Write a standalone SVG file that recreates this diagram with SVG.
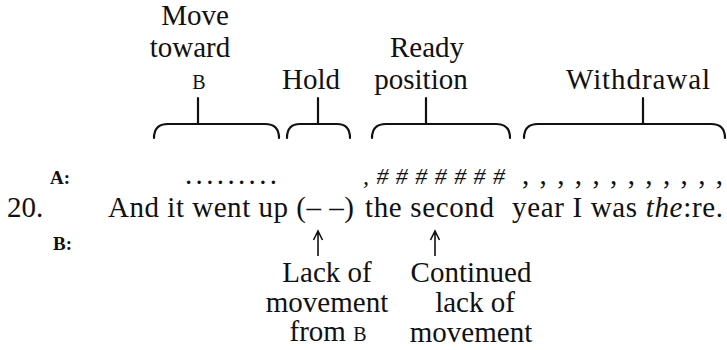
<svg xmlns="http://www.w3.org/2000/svg" width="727" height="350" viewBox="0 0 727 350">
<rect width="727" height="350" fill="#fff"/>
<g font-family="Liberation Serif" font-size="29" fill="#111">
<g id="label-move" text-anchor="middle">
<text font-family="Liberation Serif" x="195" y="25">Move</text>
<text font-family="Liberation Serif" x="190" y="57">toward</text>
<text font-family="Liberation Serif" font-size="20" x="199" y="89">B</text>
</g>
<g id="label-hold" text-anchor="middle"><text font-family="Liberation Serif" x="311" y="89">Hold</text></g>
<g id="label-ready" text-anchor="middle">
<text font-family="Liberation Serif" x="427" y="57">Ready</text>
<text font-family="Liberation Serif" x="421" y="89">position</text>
</g>
<g id="label-withdrawal" text-anchor="middle"><text font-family="Liberation Serif" x="638" y="89" textLength="144" lengthAdjust="spacing">Withdrawal</text></g>
<g id="brackets" fill="none" stroke="#111" stroke-width="2.2" stroke-linecap="round">
<path d="M154,138 Q154,124 168,124 H265 Q279,124 279,138 M198,124 V98"/>
<path d="M287,138 Q287,124 300,124 H337 Q350,124 350,138 M318,124 V98"/>
<path d="M372,138 Q372,124 386,124 H496 Q510,124 510,138 M426,124 V98"/>
<path d="M524,138 Q524,124 538,124 H711 Q725,124 725,138 M643,124 V98"/>
</g>
<g id="row-a">
<text font-family="Liberation Serif" font-size="19" font-weight="bold" x="50" y="184">A:</text>
<text font-family="Liberation Serif" x="185" y="184" textLength="92" lengthAdjust="spacing">.........</text>
<text font-family="Liberation Serif" font-size="24" font-style="italic" x="363" y="184" textLength="142" lengthAdjust="spacing">,#######</text>
<text font-family="Liberation Serif" x="522" y="184" textLength="201" lengthAdjust="spacing">, , , , , , , , , , , ,</text>
</g>
<g id="row-20">
<text font-family="Liberation Serif" x="7" y="217">20.</text>
<text font-family="Liberation Serif" x="108" y="217" textLength="246" lengthAdjust="spacing">And it went up (– –)</text>
<text font-family="Liberation Serif" x="365" y="217" textLength="129" lengthAdjust="spacing">the second</text>
<text font-family="Liberation Serif" x="512" y="217" textLength="211" lengthAdjust="spacing">year I was <tspan font-style="italic">the</tspan>:re.</text>
</g>
<g id="row-b"><text font-family="Liberation Serif" font-size="19" font-weight="bold" x="53" y="250">B:</text></g>
<g id="connectors" fill="none" stroke="#111" stroke-width="1.6">
<path d="M318,256 V232 M313.5,240 L318,231 L322.5,240"/>
<path d="M435,256 V232 M430.5,240 L435,231 L439.5,240"/>
</g>
<g id="note-lack" text-anchor="middle">
<text font-family="Liberation Serif" x="327" y="282">Lack of</text>
<text font-family="Liberation Serif" x="327" y="312">movement</text>
<text font-family="Liberation Serif" x="328" y="341">from <tspan font-size="20">B</tspan></text>
</g>
<g id="note-continued" text-anchor="middle">
<text font-family="Liberation Serif" x="471" y="282">Continued</text>
<text font-family="Liberation Serif" x="475" y="312">lack of</text>
<text font-family="Liberation Serif" x="471" y="342">movement</text>
</g>
</g>
</svg>
